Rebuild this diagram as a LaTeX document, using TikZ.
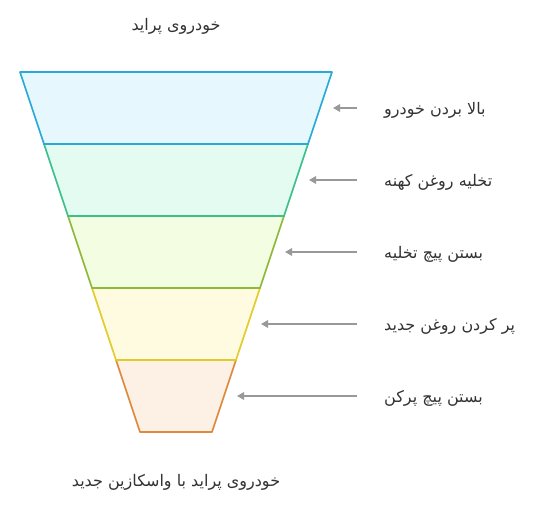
\documentclass[tikz,border=0pt]{standalone}
\usepackage{fontspec}
\usepackage{xcolor}
\usepackage{tikz}
\usetikzlibrary{positioning,arrows.meta}
\TeXXeTstate=1
\newfontfamily\arabicfont[Script=Arabic]{DejaVu Sans}

\definecolor{bandA}{HTML}{2AA9D5}
\definecolor{bandB}{HTML}{3DBF8A}
\definecolor{bandC}{HTML}{8FB83A}
\definecolor{bandD}{HTML}{E5CB2A}
\definecolor{bandE}{HTML}{DD8A3E}
\definecolor{fillA}{HTML}{E6F7FD}
\definecolor{fillB}{HTML}{E3FBF0}
\definecolor{fillC}{HTML}{F3FDE1}
\definecolor{fillD}{HTML}{FEFBE1}
\definecolor{fillE}{HTML}{FDF0E4}
\definecolor{textgray}{HTML}{333333}
\definecolor{arrowgray}{HTML}{999999}

\begin{document}
\begin{tikzpicture}[x=1pt,y=-1pt,
    band/.style={line width=1.6pt,line join=round},
    stepnote/.style={anchor=west,inner sep=0pt,text=textgray,font=\arabicfont\fontsize{16}{18}\selectfont},
    title/.style={inner sep=0pt,text=textgray,font=\arabicfont\fontsize{16}{18}\selectfont},
    pointer/.style={arrowgray,line width=1.5pt,-{Triangle[length=7pt,width=7.5pt]}}]
    % 
    \path[use as bounding box] (0,0) rectangle (549,522);

    % 
    \node[title] (top) at (176,26) {\beginR خودروی پراید\endR};
    \node[title] (bottom) at (176,482) {\beginR خودروی پراید با واسکازین جدید\endR};

    % 
    \foreach \i/\c/\f in {4/bandE/fillE,3/bandD/fillD,2/bandC/fillC,1/bandB/fillB,0/bandA/fillA}
        \draw[band,draw=\c,fill=\f] (20+24*\i,72+72*\i) -- (332-24*\i,72+72*\i)
            -- (308-24*\i,144+72*\i) -- (44+24*\i,144+72*\i) -- cycle;

    % 
    \foreach \i/\t in {1/{بالا بردن خودرو},2/{تخلیه روغن کهنه},3/{بستن پیچ تخلیه},4/{پر کردن روغن جدید},5/{بستن پیچ پرکن}}
    {
        \coordinate (t\i) at (357-24*\i,36+72*\i);
        \node[stepnote] (l\i) at (384,38+72*\i) {\beginR\t\endR};
        \draw[pointer] ([xshift=-27pt,yshift=2pt]l\i.west) -- (t\i);
    }
\end{tikzpicture}
\end{document}
